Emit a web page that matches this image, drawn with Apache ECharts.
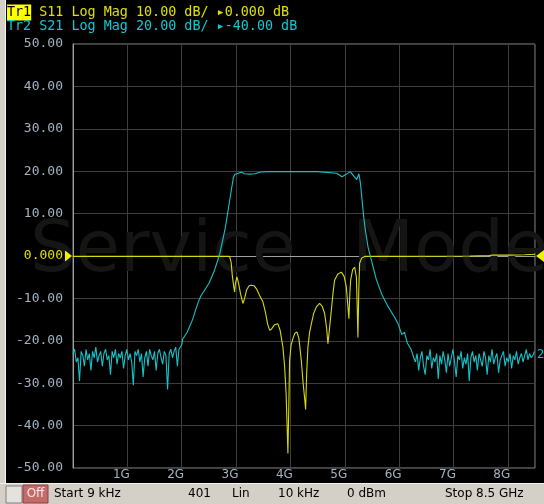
<!DOCTYPE html>
<html><head><meta charset="utf-8">
<script src="https://cdn.jsdelivr.net/npm/echarts@6/dist/echarts.min.js"></script>
<style>html,body{margin:0;padding:0;background:#000;overflow:hidden}#c{width:544px;height:504px;}</style>
</head><body><div id="c"></div>
<script>
// ---- data (frequency in GHz, level in dB) ----
const xTickLabels = ['1G','2G','3G','4G','5G','6G','7G','8G'];
const headerTr1 = 'S11 Log Mag 10.00 dB/ \u25B80.000 dB';
const headerTr2 = 'Tr2 S21 Log Mag 20.00 dB/ \u25B8-40.00 dB';
const statusItems = ['Start 9 kHz','401','Lin','10 kHz','0 dBm','Stop 8.5 GHz'];

// S11 (Tr1, 10 dB/div, ref 0 dB)
const s11 = [
 [0,-0.1],[2.88,-0.1],[2.91,-1.5],[2.93,-4.5],[2.955,-7],[2.973,-8.5],[2.988,-6.5],[3.016,-4.9],
 [3.047,-6.5],[3.084,-9],[3.126,-11.2],[3.157,-10],[3.194,-8],[3.24,-7],[3.281,-6.9],[3.332,-7],
 [3.378,-7.8],[3.433,-9.3],[3.494,-10.8],[3.544,-13.5],[3.58,-16],[3.617,-17.5],[3.654,-17.2],
 [3.709,-16.2],[3.77,-16],[3.81,-17.5],[3.862,-21.5],[3.893,-26],[3.921,-32.5],[3.939,-40],
 [3.954,-46.6],[3.967,-38],[3.985,-24.6],[4.013,-21],[4.046,-19.5],[4.083,-18.2],[4.12,-17.9],
 [4.157,-19.5],[4.2,-24.6],[4.234,-30],[4.265,-34],[4.28,-36.2],[4.298,-28],[4.322,-21.5],
 [4.353,-18],[4.385,-16],[4.427,-13.6],[4.477,-12],[4.537,-11.2],[4.583,-11.8],[4.629,-13.5],
 [4.666,-17],[4.69,-20.7],[4.712,-18],[4.753,-12.8],[4.786,-8.5],[4.813,-5.7],[4.869,-4.3],
 [4.936,-3.8],[4.988,-4.8],[5.028,-7.3],[5.052,-11],[5.076,-14.8],[5.093,-9],[5.108,-5.7],
 [5.145,-3.2],[5.182,-2.6],[5.214,-5],[5.229,-12],[5.242,-19.2],[5.258,-8],[5.273,-1.7],
 [5.31,-0.5],[5.365,-0.1],[6.01,-0.1],[7.3,0],[7.66,0.1],[7.72,0.2],[7.75,0.1],[8.03,0.2],
 [8.31,0.3],[8.5,0.4]
];

// S21 (Tr2, 20 dB/div, ref -40 dB)
const s21NoiseLowStart = 0, s21NoiseStep = 0.03;
const s21NoiseLow = [
 -86,-84,-90,-88,-99,-85,-87,-92,-84,-89,-86,-94,-85,-88,-83,-90,-87,-85,-92,-86,
 -84,-89,-87,-96,-85,-88,-84,-91,-86,-88,-85,-93,-87,-84,-89,-86,-90,-101,-85,-87,
 -84,-90,-86,-97,-88,-85,-92,-84,-87,-89,-85,-94,-86,-84,-88,-91,-85,-87,-103,-86,
 -84,-88,-85,-83,-92,-84
];
const s21Band = [
 [1.98,-84],[2.0,-82],[2.02,-79],[2.05,-78],[2.1,-76],[2.15,-73],[2.2,-70],[2.25,-66],
 [2.3,-62],[2.35,-59],[2.4,-57],[2.45,-55],[2.5,-53],[2.55,-50],[2.6,-47],[2.65,-43],
 [2.7,-39],[2.75,-33],[2.8,-27],[2.85,-19],[2.9,-11],[2.95,-3],[2.98,-1.4],[3.02,-1.2],
 [3.1,-0.4],[3.15,-1.2],[3.25,-1.4],[3.35,-1.2],[3.45,-0.4],[3.6,-0.2],[4.0,-0.2],
 [4.5,-0.2],[4.85,-1.0],[4.95,-2.6],[5.02,-1.6],[5.1,-0.2],[5.17,-2.4],[5.22,-4],
 [5.26,-1.2],[5.29,-6],[5.32,-14],[5.35,-22],[5.38,-28],[5.43,-36],[5.5,-43],[5.58,-51],
 [5.68,-58],[5.8,-64],[5.92,-69],[5.98,-72],[6.05,-77],[6.1,-76],[6.15,-81],[6.22,-84],[6.27,-88]
];
const s21NoiseHighStart = 6.3;
const s21NoiseHigh = [
 -90,-86,-94,-88,-85,-92,-96,-87,-89,-84,-93,-88,-90,-86,-98,-87,-91,-85,-89,-95,
 -86,-92,-88,-84,-90,-97,-87,-89,-85,-93,-88,-91,-86,-99,-88,-85,-90,-87,-94,-86,
 -89,-92,-85,-88,-96,-87,-90,-84,-91,-88,-86,-95,-89,-87,-85,-92,-88,-90,-86,-93,
 -87,-89,-85,-91,-88,-86,-90,-87,-84,-89,-86,-88,-87,-85
];

const s21 = []
  .concat(s21NoiseLow.map((v,i)=>[+(s21NoiseLowStart+i*s21NoiseStep).toFixed(3), v]))
  .concat(s21Band)
  .concat(s21NoiseHigh.map((v,i)=>[+(s21NoiseHighStart+i*s21NoiseStep).toFixed(3), v]));

const yellow='#d8d810', cyan='#18c0c8', labelGray='#a3b3c3';
const chart = echarts.init(document.getElementById('c'), null, {renderer:'canvas'});
chart.setOption({
  backgroundColor:'#000',
  animation:false,
  grid:{left:73, top:44, width:462, height:424, show:true, borderColor:'#8a8a8a', borderWidth:1, backgroundColor:'transparent'},
  xAxis:{type:'value', min:0, max:8.5, interval:1,
    axisLine:{show:true, lineStyle:{color:'#a0a0a0'}}, axisTick:{show:false},
    splitLine:{show:true, lineStyle:{color:'#3e3e3e', width:1}},
    axisLabel:{margin:1, align:'center', padding:[0,12,0,0], color:labelGray, fontFamily:'DejaVu Sans', fontSize:12,
      showMinLabel:false, showMaxLabel:false,
      formatter:v=>{const n=Math.round(v); return (Math.abs(v-n)<1e-6 && n>=1 && n<=8)? xTickLabels[n-1] : '';}}
  },
  yAxis:[{type:'value', min:-50, max:50, interval:10,
    axisLine:{show:true, lineStyle:{color:'#a0a0a0'}}, axisTick:{show:false},
    splitLine:{show:true, lineStyle:{color:'#3e3e3e', width:1}},
    axisLabel:{margin:10, fontFamily:'DejaVu Sans Mono', fontSize:13,
      color:v=>Number(v)===0?'#e0e000':labelGray,
      formatter:v=>Number(v)===0?'0.000':Number(v).toFixed(2)}
  },{type:'value', min:-140, max:60, interval:20, show:false}],
  graphic:[
    {type:'rect', shape:{x:0,y:0,width:5,height:483}, style:{fill:'#d4d0c8'}, z:10},
    {type:'rect', shape:{x:5,y:0,width:1,height:483}, style:{fill:'#f4f4f0'}, z:10},
    {type:'text', x:30, y:252, z:1, style:{text:'Service', font:'72px "DejaVu Sans"', fill:'#151515', verticalAlign:'middle'}},
    {type:'text', x:352, y:252, z:1, style:{text:'Mode', font:'72px "DejaVu Sans"', fill:'#151515', verticalAlign:'middle'}},
    {type:'text', x:7, y:12.5, z:10, style:{text:'{a|Tr1} '+headerTr1, font:'13.4px "DejaVu Sans Mono"', fill:'#e0e000', verticalAlign:'middle',
      rich:{a:{backgroundColor:'#ffff00', fill:'#000', color:'#000', font:'13.4px "DejaVu Sans Mono"', padding:[2,0,1,0]}}}},
    {type:'text', x:7, y:26.5, z:10, style:{text:headerTr2, font:'13.4px "DejaVu Sans Mono"', fill:'#10c8d0', verticalAlign:'middle'}},
    {type:'text', x:537, y:355, z:10, style:{text:'2', font:'12px "DejaVu Sans Mono"', fill:cyan, verticalAlign:'middle'}},
    {type:'rect', shape:{x:0,y:483,width:544,height:21}, style:{fill:'#d4d0c8'}, z:10},
    {type:'rect', shape:{x:0,y:483,width:544,height:1}, style:{fill:'#f0f0ec'}, z:11},
    {type:'rect', shape:{x:6,y:486,width:16,height:17}, style:{fill:'#e4e2dc', stroke:'#808080', lineWidth:1}, z:11},
    {type:'rect', shape:{x:23,y:485,width:25,height:18}, style:{fill:'#c46a6a', stroke:'#8a4040', lineWidth:1}, z:11},
    {type:'text', x:35.5, y:494, z:12, style:{text:'Off', font:'12px "DejaVu Sans"', fill:'#f4e8e8', align:'center', verticalAlign:'middle'}},
    {type:'text', x:54, y:494, z:12, style:{text:statusItems[0], font:'12px "DejaVu Sans"', fill:'#000', verticalAlign:'middle'}},
    {type:'text', x:188, y:494, z:12, style:{text:statusItems[1], font:'12px "DejaVu Sans"', fill:'#000', verticalAlign:'middle'}},
    {type:'text', x:232, y:494, z:12, style:{text:statusItems[2], font:'12px "DejaVu Sans"', fill:'#000', verticalAlign:'middle'}},
    {type:'text', x:278, y:494, z:12, style:{text:statusItems[3], font:'12px "DejaVu Sans"', fill:'#000', verticalAlign:'middle'}},
    {type:'text', x:347, y:494, z:12, style:{text:statusItems[4], font:'12px "DejaVu Sans"', fill:'#000', verticalAlign:'middle'}},
    {type:'text', x:445, y:494, z:12, style:{text:statusItems[5], font:'12px "DejaVu Sans"', fill:'#000', verticalAlign:'middle'}}
  ],
  series:[
    {name:'S11', type:'line', data:s11, xAxisIndex:0, yAxisIndex:0, showSymbol:false, symbol:'none',
      lineStyle:{color:yellow, width:1.1}, z:2,
      markPoint:{silent:true, label:{show:false}, itemStyle:{color:'#f0f000'},
        data:[
          {coord:[0,0], symbol:'path://M0,0 L7,5.5 L0,11 Z', symbolSize:[7,11], symbolOffset:[-4.5,0]},
          {coord:[8.5,0], symbol:'path://M7,0 L0,5.5 L7,11 Z', symbolSize:[8,12], symbolOffset:[5,0]}
        ]}},
    {name:'S21', type:'line', data:s21, xAxisIndex:0, yAxisIndex:1, showSymbol:false, symbol:'none',
      lineStyle:{color:cyan, width:1.1}, z:3}
  ]
});
</script></body></html>
